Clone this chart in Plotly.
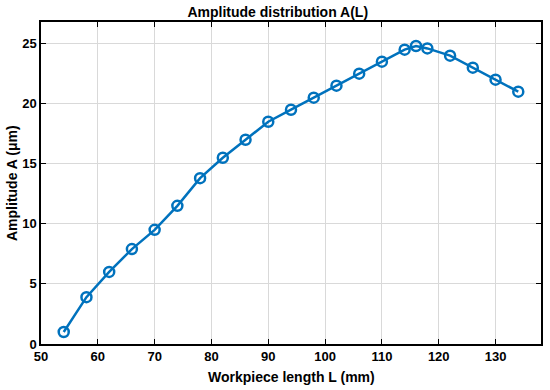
import plotly.graph_objects as go

L = [54, 58, 62, 66, 70, 74, 78, 82, 86, 90, 94, 98, 102, 106, 110, 114, 116, 118, 122, 126, 130, 134]
A = [1.0, 3.9, 6.0, 7.9, 9.5, 11.5, 13.8, 15.5, 17.0, 18.5, 19.5, 20.5, 21.5, 22.5, 23.5, 24.5, 24.8, 24.6, 24.0, 23.0, 22.0, 21.0]
x_ticks = [50, 60, 70, 80, 90, 100, 110, 120, 130]
y_ticks = [0, 5, 10, 15, 20, 25]

color = "#0072BD"
fig = go.Figure(go.Scatter(
    x=L, y=A, mode="lines+markers",
    line=dict(color=color, width=2.5),
    marker=dict(symbol="circle-open", size=10, color=color, line=dict(width=2.5, color=color)),
))

FF = "Liberation Sans, Arial"
axis_common = dict(
    showline=True, linecolor="black", linewidth=1.5, mirror="ticks",
    ticks="inside", ticklen=5, tickcolor="black", tickwidth=1,
    showgrid=True, gridcolor="#d9d9d9", gridwidth=1, zeroline=False,
    automargin=False,
    tickfont=dict(family=FF, size=13, color="black", weight="bold"),
)
fig.update_layout(
    width=550, height=390,
    paper_bgcolor="white", plot_bgcolor="white",
    margin=dict(l=41, r=9, t=22, b=46, autoexpand=False),
    showlegend=False,
    font=dict(family=FF, size=12, color="black"),
    title=dict(text="<b>Amplitude distribution A(L)</b>", x=0.505, xanchor="center", y=0.969, yanchor="middle",
               pad=dict(t=0, b=0),
               font=dict(family=FF, size=14, color="black")),
    xaxis=dict(range=[50, 138], tickvals=x_ticks, **axis_common),
    yaxis=dict(range=[0, 26.8], tickvals=y_ticks, **axis_common),
    annotations=[
        dict(text="<b>Workpiece length L (mm)</b>", xref="paper", yref="paper", x=0.5, y=-0.1025,
             xanchor="center", yanchor="middle", showarrow=False,
             font=dict(family=FF, size=14, color="black")),
        dict(text="<b>Amplitude A (μm)</b>", xref="paper", yref="paper", x=-0.058, y=0.5,
             xanchor="center", yanchor="middle", textangle=-90, showarrow=False,
             font=dict(family=FF, size=14, color="black")),
    ],
)
fig.write_html("out.html", config={"displayModeBar": False},
               post_script="document.body.style.margin='0px';")
